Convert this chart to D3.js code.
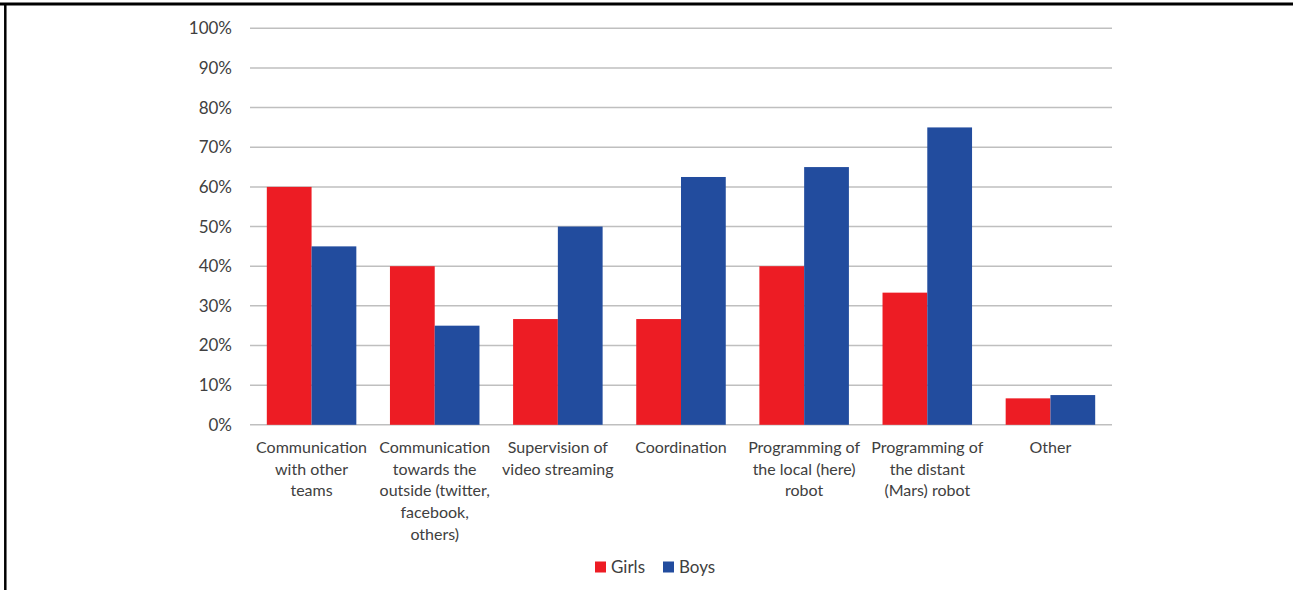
<!DOCTYPE html>
<html>
<head>
<meta charset="utf-8">
<script src="https://cdn.jsdelivr.net/npm/d3@7"></script>
<style>
  html, body { margin: 0; padding: 0; background: #fff; }
  svg { display: block; }
  text { font-family: Lato, "Open Sans", sans-serif; fill: #404040; }
</style>
</head>
<body>
<svg id="chart" width="1293" height="590"></svg>
<script>
// Task categories (line breaks as shown under the axis)
const categories = [
  ["Communication", "with other", "teams"],
  ["Communication", "towards the", "outside (twitter,", "facebook,", "others)"],
  ["Supervision of", "video streaming"],
  ["Coordination"],
  ["Programming of", "the local (here)", "robot"],
  ["Programming of", "the distant", "(Mars) robot"],
  ["Other"]
];
// Share of respondents per task, in percent
const girls = [60, 40, 26.67, 26.67, 40, 33.33, 6.67];
const boys  = [45, 25, 50, 62.5, 65, 75, 7.5];
const seriesNames = ["Girls", "Boys"];
const seriesColors = ["#ED1C24", "#224C9E"];
const yTicks = [0, 10, 20, 30, 40, 50, 60, 70, 80, 90, 100];

const svg = d3.select("#chart");

// Frame lines at the top and left
svg.append("line").attr("x1", 0).attr("x2", 1293).attr("y1", 4).attr("y2", 4)
  .attr("stroke", "#000").attr("stroke-width", 3);
svg.append("line").attr("x1", 5.3).attr("x2", 5.3).attr("y1", 3).attr("y2", 590)
  .attr("stroke", "#000").attr("stroke-width", 2.5);

const plot = { left: 250, right: 1112, top: 28.3, bottom: 424.8 };

const x = d3.scaleBand()
  .domain(d3.range(categories.length))
  .range([plot.left, plot.right])
  .paddingInner(0.273)
  .paddingOuter(0.1365);

const xs = d3.scaleBand()
  .domain(seriesNames)
  .range([0, x.bandwidth()]);

const y = d3.scaleLinear().domain([0, 100]).range([plot.bottom, plot.top]);

// Horizontal gridlines
svg.append("g")
  .selectAll("line")
  .data(yTicks)
  .join("line")
  .attr("x1", plot.left).attr("x2", plot.right)
  .attr("y1", d => y(d)).attr("y2", d => y(d))
  .attr("stroke", "#BFBFBF").attr("stroke-width", 1.5);

// Y axis labels
const yAxis = d3.axisLeft(y).tickValues(yTicks).tickFormat(d => d + "%").tickSize(0).tickPadding(0);
const gy = svg.append("g").attr("transform", `translate(${232},0)`).call(yAxis);
gy.select(".domain").remove();
gy.selectAll("text").style("font-size", "17px").attr("fill", "#404040")
  .style("font-family", "Lato, 'Open Sans', sans-serif");

// Bars
const rows = categories.map((c, i) => ({ i, values: [girls[i], boys[i]] }));
const groups = svg.append("g").selectAll("g")
  .data(rows)
  .join("g")
  .attr("transform", d => `translate(${x(d.i)},0)`);

groups.selectAll("rect")
  .data(d => d.values.map((v, k) => ({ v, k })))
  .join("rect")
  .attr("x", d => xs(seriesNames[d.k]))
  .attr("width", xs.bandwidth())
  .attr("y", d => y(d.v))
  .attr("height", d => y(0) - y(d.v))
  .attr("fill", d => seriesColors[d.k]);

// Category labels
const lab = svg.append("g").selectAll("text")
  .data(rows)
  .join("text")
  .attr("text-anchor", "middle")
  .attr("x", d => x(d.i) + x.bandwidth() / 2)
  .attr("y", 453)
  .style("font-size", "16px");
lab.selectAll("tspan")
  .data(d => categories[d.i].map((t, j) => ({ t, j, cx: x(d.i) + x.bandwidth() / 2 })))
  .join("tspan")
  .attr("x", d => d.cx)
  .attr("dy", d => d.j === 0 ? 0 : 21.7)
  .text(d => d.t);

// Legend
const legend = svg.append("g").attr("transform", "translate(595,561.5)");
const legendX = [0, 68];
seriesNames.forEach((name, k) => {
  const g = legend.append("g").attr("transform", `translate(${legendX[k]},0)`);
  g.append("rect").attr("width", 11).attr("height", 11).attr("fill", seriesColors[k]);
  g.append("text").attr("x", 16).attr("y", 11.5).style("font-size", "17px").text(name);
});
</script>
</body>
</html>
